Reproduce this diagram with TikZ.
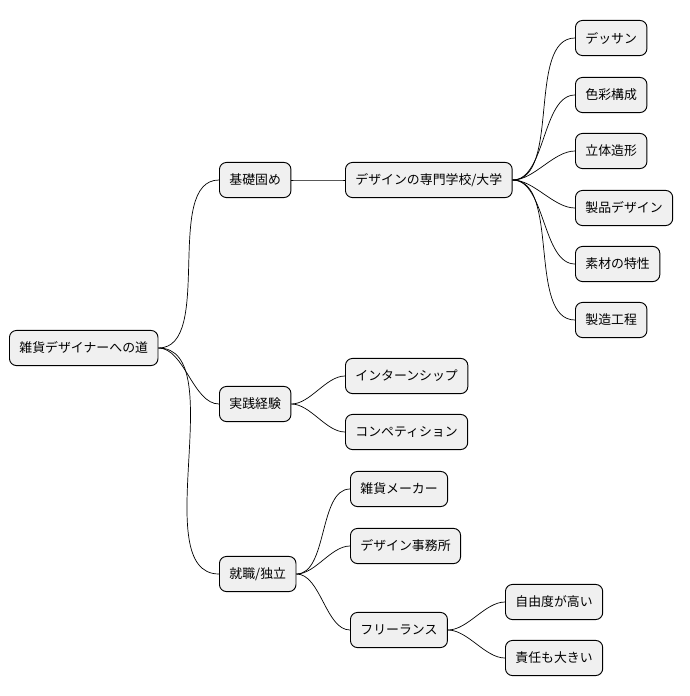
\documentclass[tikz,border=0pt]{standalone}
\usepackage{fontspec}
\newfontfamily\cjk{Noto Sans CJK JP}
\tikzset{
  topic/.style={draw=black,fill=black!6,rounded corners=6pt,line width=0.8pt,
    minimum height=30pt,inner xsep=8.5pt,anchor=west,font=\cjk\fontsize{11}{13}\selectfont},
  branch/.style={line width=0.6pt,out=0,in=180,looseness=0.8}
}
\begin{document}
\begin{tikzpicture}[x=0.03cm,y=-0.03cm]
\useasboundingbox (0,0) rectangle (689,696);
\node[topic] at (9,348) (root) {雑貨デザイナーへの道};
\node[topic] at (219,180) (base) {基礎固め};
\node[topic] at (345,180) (school) {デザインの専門学校/大学};
\node[topic] at (575,38) (l1) {デッサン};
\node[topic] at (575,95) (l2) {色彩構成};
\node[topic] at (575,151) (l3) {立体造形};
\node[topic] at (575,208) (l4) {製品デザイン};
\node[topic] at (575,264) (l5) {素材の特性};
\node[topic] at (575,320) (l6) {製造工程};
\node[topic] at (219,404) (prac) {実践経験};
\node[topic] at (345,376) (intern) {インターンシップ};
\node[topic] at (345,432) (compe) {コンペティション};
\node[topic] at (219,574) (job) {就職/独立};
\node[topic] at (350,489) (maker) {雑貨メーカー};
\node[topic] at (350,546) (office) {デザイン事務所};
\node[topic] at (350,630) (free) {フリーランス};
\node[topic] at (505,602) (f1) {自由度が高い};
\node[topic] at (505,658) (f2) {責任も大きい};
% connectors
\foreach \a/\b in {root/base,root/prac,root/job,base/school,
  school/l1,school/l2,school/l3,school/l4,school/l5,school/l6,
  prac/intern,prac/compe,job/maker,job/office,job/free,free/f1,free/f2}
  \draw[branch] (\a.east) to (\b.west);
\end{tikzpicture}
\end{document}
